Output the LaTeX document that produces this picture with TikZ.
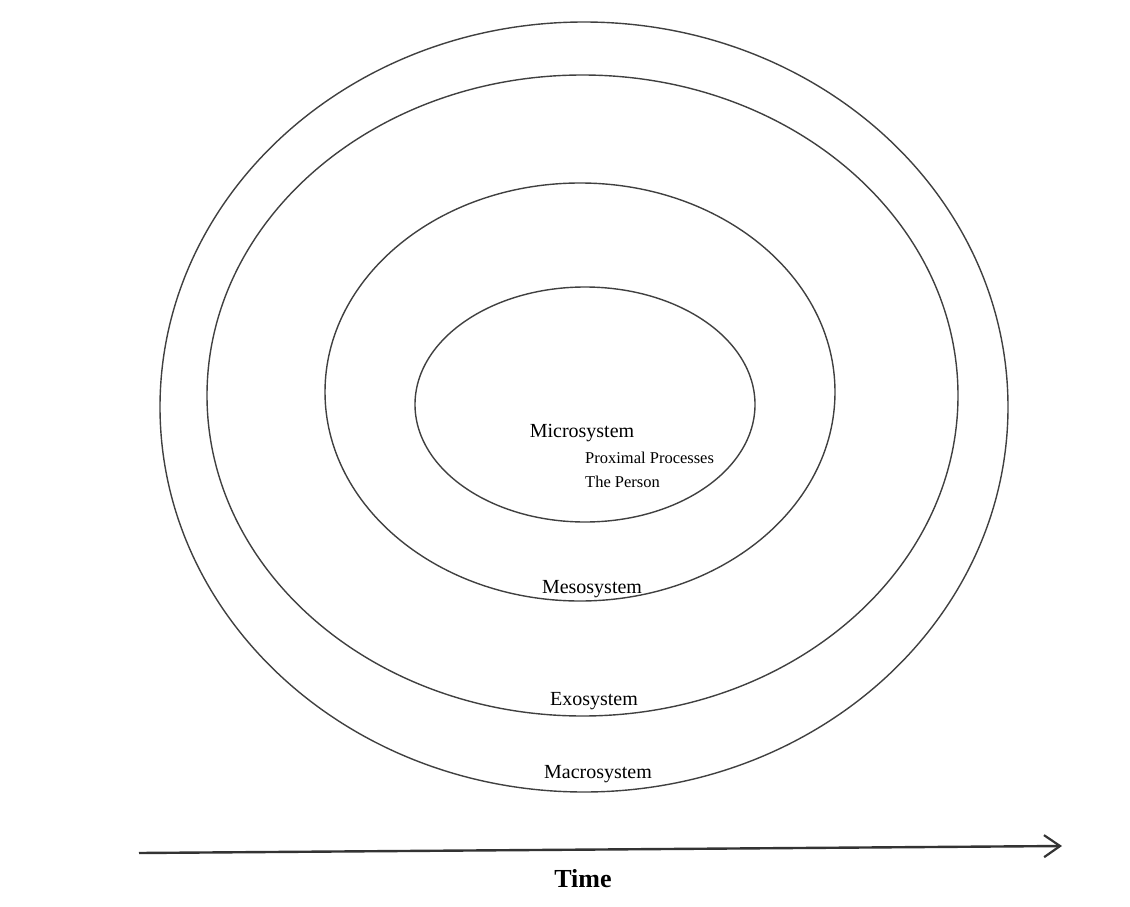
\documentclass[tikz,border=0pt]{standalone}
\usepackage{fontspec}
\setmainfont{Liberation Serif}
\usetikzlibrary{arrows.meta}
\begin{document}
\begin{tikzpicture}[x=1pt,y=-1pt,
  ring/.style={draw=black!75, line width=1.4pt},
  lab/.style={inner sep=0pt, anchor=base, text=black},
  big/.style={font=\fontsize{20}{24}\selectfont},
  small/.style={font=\fontsize{16.5}{20}\selectfont}]
\useasboundingbox (0,0) rectangle (1130,907);
\draw[ring] (584,407) ellipse [x radius=424, y radius=385];
\draw[ring] (582.5,395.5) ellipse [x radius=375.5, y radius=320.5];
\draw[ring] (580,392) ellipse [x radius=255, y radius=209];
\draw[ring] (585,404.5) ellipse [x radius=170, y radius=117.5];
\node[lab,big] (micro) at (582,437) {Microsystem};
\node[lab,small,anchor=base west] (prox) at (585,463) {Proximal Processes};
\node[lab,small,anchor=base west] (person) at (585,487) {The Person};
\node[lab,big] (meso) at (592,593) {Mesosystem};
\node[lab,big] (exo) at (594,705) {Exosystem};
\node[lab,big] (macro) at (598,778) {Macrosystem};
\coordinate (t0) at (139,853);
\coordinate (t1) at (1062,846);
\draw[line width=2.4pt, draw=black!80, -{Straight Barb[length=16pt,width=22pt,line width=2.2pt]}] (t0) -- (t1);
\node[lab,font=\bfseries\fontsize{26}{30}\selectfont] (time) at (583,887) {Time};
\end{tikzpicture}
\end{document}
